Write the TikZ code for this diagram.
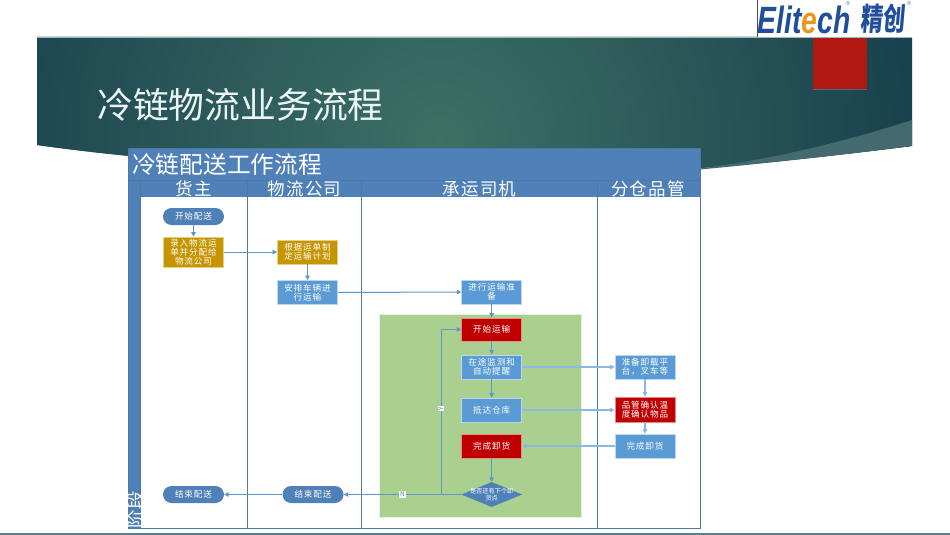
\documentclass[tikz,border=0pt]{standalone}
\usepackage{fontspec}
\setmainfont{Noto Sans CJK SC}
\newfontfamily\boxfont[LetterSpace=10]{Noto Sans CJK SC}
\newfontfamily\lanefont[LetterSpace=7]{Noto Sans CJK SC}
\newfontfamily\logolat{Liberation Sans}
\newfontfamily\logocjk[FakeSlant=0.12]{Noto Sans CJK SC}
\usetikzlibrary{shapes.geometric,arrows.meta,shadows}
\definecolor{poolblue}{HTML}{4F81B8}
\definecolor{poolline}{HTML}{4A7BA6}
\definecolor{stepblue}{HTML}{5B9BD5}
\definecolor{stepred}{HTML}{C00000}
\definecolor{stepgold}{HTML}{C79500}
\definecolor{stadium}{HTML}{4F81B8}
\definecolor{flow}{HTML}{5F96C8}
\definecolor{flowpale}{HTML}{8DB9E0}
\definecolor{leaf}{HTML}{A9D08E}
\definecolor{logoblue}{HTML}{1F4F9C}
\definecolor{logoorange}{HTML}{E8961E}
\definecolor{bandouter}{HTML}{18424E}
\definecolor{bandinner}{HTML}{3E7064}
\definecolor{bandlight}{HTML}{446A70}
\definecolor{bandtop}{HTML}{9DB8B8}
\definecolor{sliderule}{HTML}{5A7D87}
\definecolor{tabred}{HTML}{B01812}
\tikzset{
  x=1pt,y=-1pt,
  boxtxt/.style={text=white,align=center,font=\boxfont\fontsize{8.6}{9}\selectfont,inner sep=0pt},
  stepbox/.style={boxtxt,rectangle,minimum width=60pt,minimum height=24pt,draw=white!60!stepblue,line width=.8pt,fill=stepblue},
  redbox/.style={stepbox,draw=white!55!stepred,fill=stepred},
  goldbox/.style={stepbox,draw=white!55!stepgold,fill=stepgold},
  pill/.style={boxtxt,rectangle,rounded corners=8.5pt,minimum width=61pt,minimum height=17pt,fill=stadium},
  choice/.style={diamond,aspect=2.4,inner sep=0pt,minimum width=61pt,minimum height=25pt,fill=stadium},
  choicetext/.style={text=white,align=center,inner sep=0pt,font=\fontsize{6.2}{7}\selectfont},
  flowline/.style={draw=flow,line width=1pt,-{Triangle[length=4.5pt,width=4.5pt]}},
  paleline/.style={flowline,draw=flowpale,line width=1.1pt,-{Triangle[length=4.5pt,width=4.5pt,fill=flow]}},
  lanehead/.style={text=white,font=\lanefont\fontsize{17.5}{18}\selectfont,inner sep=0pt},
  lanerule/.style={draw=poolline,line width=.9pt},
  branchtag/.style={fill=white,text=stadium,inner sep=.8pt,font=\fontsize{6.5}{7}\selectfont},
}
\begin{document}
\begin{tikzpicture}
\useasboundingbox (0,0) rectangle (950,535);
\fill[white] (0,0) rectangle (950,535);
% banner
\begin{scope}
\clip (37,37) -- (912,37) -- (912,146) .. controls (760,165) and (640,176) .. (500,174)
  .. controls (340,172) and (180,165) .. (37,145) -- cycle;
\fill[bandouter] (0,0) rectangle (950,200);
\shade[inner color=bandinner,outer color=bandouter] (440,140) circle (470);
\end{scope}
\fill[bandlight] (700,168.5) .. controls (780,158) and (850,140) .. (912,120) -- (912,146) .. controls (840,155) and (770,163) .. (700,169.5) -- cycle;
\draw[bandtop,line width=.4pt] (37,37) -- (912,37);
% bottom rule of slide
\fill[sliderule] (0,533.3) rectangle (950,535);
% red tab
\fill[black!45,opacity=.5] (813,39) rectangle (867,90);
\fill[tabred] (813,38) rectangle (867,89);
% logo
\fill[white] (757,0) rectangle (918,37.5);
\draw[black!70,line width=.5pt] (757,0) -- (757,37);
\node[anchor=west,inner sep=0pt,text=logoblue] (logoa) at (757.5,19.5)
  {\scalebox{0.745}[1]{\logolat\fontsize{38}{38}\selectfont\bfseries\itshape Elit\textcolor{logoorange}{e}ch}};
\node[anchor=west,inner sep=0pt,text=logoblue] (logob) at (860,19)
  {\scalebox{0.72}[1]{\logocjk\fontsize{31}{31}\selectfont\bfseries 精创}};
\node[text=logoblue!70,inner sep=0pt,font=\logolat\fontsize{6}{6}\selectfont] (rega) at (848,3.5) {®};
\node[text=logoblue!70,inner sep=0pt,font=\logolat\fontsize{6}{6}\selectfont] (regb) at (909,3.5) {®};
% title
\node[anchor=west,inner sep=0pt,text=white!92!teal,font=\fontsize{35.8}{36}\selectfont] (title) at (97,105) {冷链物流业务流程};
% pool
\fill[white] (128,148) rectangle (700,528);
\fill[poolblue] (128,148) rectangle (700,197);
\fill[poolblue] (128,148) rectangle (140,528);
\draw[lanerule] (128,180.5) -- (700,180.5);
\draw[lanerule] (128,148) rectangle (700,528);
\foreach \lx in {140,247,361,597}{\draw[lanerule] (\lx,180.5) -- (\lx,528);}
\node[anchor=west,inner sep=0pt,text=white,font=\fontsize{23.7}{24}\selectfont] (pooltitle) at (132,164) {冷链配送工作流程};
\node[lanehead] (laneA) at (193.8,188.5) {货主};
\node[lanehead] (laneB) at (304.5,188.5) {物流公司};
\node[lanehead] (laneC) at (479.5,188.5) {承运司机};
\node[lanehead] (laneD) at (648,188.5) {分仓品管};
\begin{scope}
\clip (128.5,480) rectangle (140,528);
\node[rotate=90,anchor=west,inner sep=0pt,text=white,font=\fontsize{18.5}{19}\selectfont] (phase) at (135,528.5) {阶段};
\end{scope}
% green region
\fill[leaf,draw=white!70!leaf,line width=.6pt] (379,314) rectangle (581,517);
% nodes
\node[pill] (start) at (193.5,216.5) {开始配送};
\node[goldbox,minimum height=30pt] (enter) at (193.5,252) {录入物流运\\单并分配给\\物流公司};
\node[goldbox] (plan) at (307.5,252) {根据运单制\\定运输计划};
\node[stepbox] (arrange) at (307.5,292.5) {安排车辆进\\行运输};
\node[stepbox] (prep) at (491.7,292) {进行运输准\\备};
\node[redbox,minimum height=23pt] (go) at (491.7,329.5) {开始运输};
\node[stepbox] (monitor) at (491.7,367) {在途监测和\\自动提醒};
\node[stepbox] (arrive) at (491.7,410) {抵达仓库};
\node[redbox] (unloaded) at (491.7,446) {完成卸货};
\node[choice] (more) at (491.7,494.5) {};
\node[choicetext] (moretext) at (more.center) {是否还有下个卸\\货点};
\node[stepbox] (dock) at (645,367) {准备卸载平\\台，叉车等};
\node[redbox,minimum height=25pt] (qc) at (645,409.5) {品管确认温\\度确认物品};
\node[stepbox] (whdone) at (645,446) {完成卸货};
\node[pill] (endB) at (313,494.5) {结束配送};
\node[pill] (endA) at (193.5,494.5) {结束配送};
\coordinate (fork) at (441,494.5);
% connectors
\draw[flowline] (start) -- (enter);
\draw[flowline] (enter.east |- plan) -- (plan);
\draw[flowline] (plan) -- (arrange);
\draw[flowline] (arrange) -- (prep);
\draw[flowline] (prep) -- (go);
\draw[flowline] (go) -- (monitor);
\draw[flowline] (monitor) -- (arrive);
\draw[paleline] (monitor) -- (dock);
\draw[paleline] (arrive) -- (qc.west |- arrive);
\draw[paleline] (dock) -- (qc);
\draw[paleline] (qc) -- (whdone);
\draw[paleline] (whdone) -- (unloaded);
\draw[flowline] (unloaded) -- (more);
\draw[flowline] (more) -- (endB) node[branchtag,pos=.5] (tagN) {N};
\draw[flowline] (more) -- (fork) |- (go) node[branchtag,pos=.26,rotate=90] (tagY) {Y};
\draw[flowline] (endB) -- (endA);
\end{tikzpicture}
\end{document}
